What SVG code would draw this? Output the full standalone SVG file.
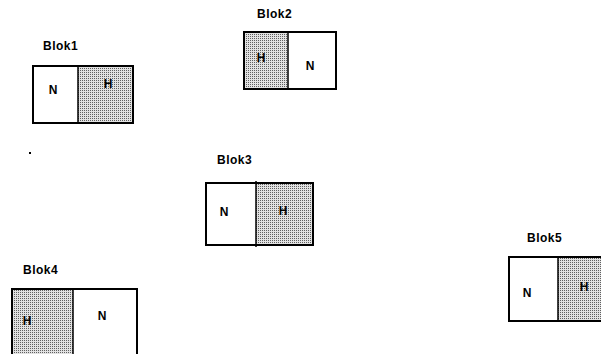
<svg xmlns="http://www.w3.org/2000/svg" width="601" height="354" viewBox="0 0 601 354">
<style>
.lbl{font-family:"Liberation Sans",Arial,sans-serif;font-size:12px;font-weight:bold;fill:#000;letter-spacing:0.5px}
.t{font-family:"Liberation Sans",Arial,sans-serif;font-size:12px;font-weight:bold;fill:#000;text-anchor:middle}
.box{fill:none;stroke:#000;stroke-width:2}
.w{fill:#fff}
.h{fill:url(#dots)}
</style>
<defs>
<pattern id="dots" width="2" height="2" patternUnits="userSpaceOnUse">
<rect width="2" height="2" fill="#e2e2e2"/>
<rect width="1" height="1" fill="#606060"/>
</pattern>
</defs>
<rect width="601" height="354" fill="#fff"/>
<g id="blok1">
<text class="lbl" x="43" y="50">Blok1</text>
<rect class="w" x="33" y="66" width="45" height="57"/>
<rect class="h" x="78" y="66" width="55" height="57"/>
<rect class="box" x="33" y="66" width="100" height="57"/>
<line x1="78" y1="66" x2="78" y2="123" stroke="#000" stroke-width="1.5"/>
<text class="t" x="53" y="94">N</text>
<text class="t" x="108" y="88">H</text>
</g>
<g id="blok2">
<text class="lbl" x="257" y="18">Blok2</text>
<rect class="h" x="244" y="32" width="44" height="57"/>
<rect class="w" x="288" y="32" width="48" height="57"/>
<rect class="box" x="244" y="32" width="92" height="57"/>
<line x1="288" y1="32" x2="288" y2="89" stroke="#000" stroke-width="1.5"/>
<text class="t" x="261" y="62">H</text>
<text class="t" x="310" y="70">N</text>
</g>
<g id="blok3">
<text class="lbl" x="217" y="164">Blok3</text>
<rect class="w" x="206" y="183" width="50" height="62"/>
<rect class="h" x="256" y="183" width="57" height="62"/>
<rect class="box" x="206" y="183" width="107" height="62"/>
<line x1="256" y1="181" x2="256" y2="247" stroke="#000" stroke-width="1.5"/>
<text class="t" x="224" y="216">N</text>
<text class="t" x="283" y="215">H</text>
</g>
<g id="blok4">
<text class="lbl" x="23" y="274">Blok4</text>
<rect class="h" x="12" y="289" width="61" height="70"/>
<rect class="w" x="73" y="289" width="64" height="70"/>
<rect class="box" x="12" y="289" width="125" height="70"/>
<line x1="73" y1="289" x2="73" y2="359" stroke="#000" stroke-width="1.5"/>
<text class="t" x="27" y="325">H</text>
<text class="t" x="102" y="320">N</text>
</g>
<g id="blok5">
<text class="lbl" x="527" y="242">Blok5</text>
<rect class="w" x="509" y="257" width="49" height="64"/>
<rect class="h" x="558" y="257" width="50" height="64"/>
<rect class="box" x="509" y="257" width="100" height="64"/>
<line x1="558" y1="257" x2="558" y2="321" stroke="#000" stroke-width="1.5"/>
<text class="t" x="527" y="297">N</text>
<text class="t" x="584" y="291">H</text>
</g>
<rect x="29" y="152" width="2" height="2" fill="#000"/>
</svg>
